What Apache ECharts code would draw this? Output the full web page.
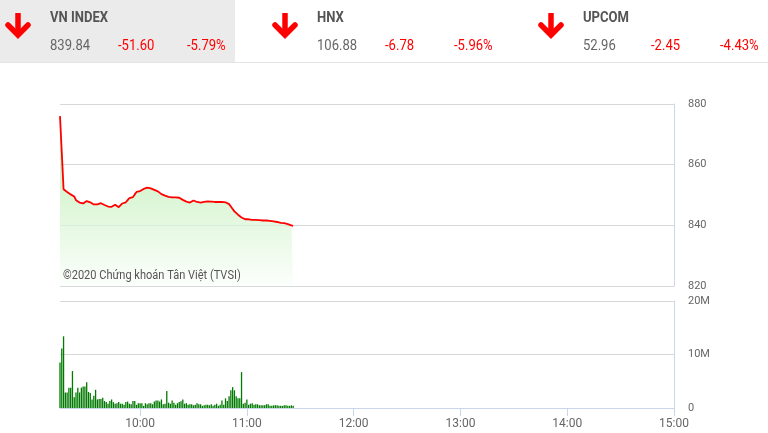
<!DOCTYPE html>
<html>
<head>
<meta charset="utf-8">
<script src="https://cdn.jsdelivr.net/npm/echarts@6/dist/echarts.min.js"></script>
<style>
  html, body { margin: 0; padding: 0; background: #fff; }
  #chart { width: 768px; height: 433px; }
</style>
</head>
<body>
<div id="chart"></div>
<script>
// bảng chỉ số đầu trang
const indexNames = ['VN INDEX', 'HNX', 'UPCOM']
const indexValues = ['839.84', '106.88', '52.96']
const indexChanges = ['-51.60', '-6.78', '-2.45']
const indexPercents = ['-5.79%', '-5.96%', '-4.43%']

// trục thời gian tính theo phút trong ngày
const sessionStart = 555   // 9:15
const sessionEnd = 900     // 15:00
const hourTicks = [600, 660, 720, 780, 840, 900]
const hourLabels = ['10:00', '11:00', '12:00', '13:00', '14:00', '15:00']
const priceTicks = [820, 840, 860, 880]
const volumeTicks = [0, 10, 20]
const volumeLabels = ['0', '10M', '20M']

// VN-Index theo từng phút, từ 9:15
const prices = [
  876.0, 864.0, 851.9, 851.4, 851.0, 850.6, 850.2, 849.8, 849.5, 848.3,
  847.9, 847.5, 847.0, 847.2, 847.3, 848.0, 848.4, 847.6, 847.0, 846.9,
  847.0, 846.9, 847.0, 847.3, 847.1, 846.7, 846.4, 846.2, 846.0, 846.1,
  846.5, 846.8, 846.2, 846.0, 846.6, 847.2, 847.8, 847.6, 848.3, 849.0,
  849.4, 849.3, 850.2, 851.0, 851.4, 851.3, 851.8, 852.0, 852.2, 852.4,
  852.1, 852.2, 851.9, 851.7, 851.6, 851.2, 850.7, 850.3, 850.0, 849.8,
  849.7, 849.4, 849.5, 849.2, 849.0, 849.2, 849.0, 849.1, 848.8, 848.4,
  848.2, 847.8, 847.6, 847.5, 847.9, 848.2, 847.8, 847.7, 847.8, 847.5,
  847.6, 847.7, 847.8, 847.9, 847.8, 847.8, 847.8, 847.7, 847.8, 847.7,
  847.6, 847.7, 847.6, 847.6, 847.5, 847.0, 846.2, 845.4, 844.6, 844.0,
  843.5, 843.0, 842.6, 842.3, 842.0, 841.9, 842.0, 841.9, 841.8, 841.9,
  841.8, 841.9, 841.7, 841.7, 841.6, 841.8, 841.6, 841.5, 841.5, 841.4,
  841.3, 841.2, 841.1, 841.0, 840.8, 840.9, 840.7, 840.7, 840.4, 840.2,
  840.0, 839.84
]

// khối lượng theo phút (triệu cp)
const volumes = [
  8.5, 11.1, 13.4, 2.9, 2.9, 3.8, 3.8, 6.9, 2.0, 2.9,
  3.8, 2.9, 3.8, 4.0, 4.0, 4.8, 3.0, 2.8, 1.6, 2.3,
  3.4, 1.6, 1.7, 1.7, 1.9, 1.3, 1.1, 0.8, 1.3, 1.6,
  1.1, 0.8, 0.9, 1.1, 0.8, 0.8, 0.6, 1.1, 1.2, 0.8,
  0.7, 1.3, 1.3, 0.6, 0.9, 0.9, 0.9, 0.4, 0.9, 0.7,
  0.9, 0.9, 0.7, 1.2, 1.4, 1.4, 1.2, 1.6, 0.7, 0.8,
  3.2, 1.0, 0.8, 1.4, 1.0, 0.6, 0.9, 1.1, 1.25, 1.6,
  0.8, 0.9, 0.6, 0.7, 0.7, 0.5, 0.6, 0.9, 0.7, 0.7,
  0.4, 0.5, 0.6, 0.6, 0.5, 0.7, 0.4, 0.6, 0.8, 0.4,
  0.6, 1.4, 0.6, 1.8, 1.3, 2.2, 3.3, 3.9, 3.3, 2.2,
  1.8, 1.8, 6.7, 0.8, 1.0, 1.6, 0.6, 0.8, 0.9, 0.6,
  0.7, 0.7, 0.5, 0.5, 0.5, 0.5, 0.7, 0.7, 0.4, 0.4,
  0.5, 0.5, 0.5, 0.4, 0.4, 0.4, 0.5, 0.5, 0.4, 0.4,
  0.5, 0.4
]

const copyright = '©2020 Chứng khoán Tân Việt (TVSI)'

const chart = echarts.init(document.getElementById('chart'))

// phần đầu: ô chỉ số, mũi tên đỏ
const panelX = [0, 267, 533]
const headerFont = 'Roboto, sans-serif'
const header = [
  { type: 'rect', shape: { x: 0, y: 0, width: 235, height: 62 }, style: { fill: '#ebebeb' }, silent: true },
  { type: 'rect', shape: { x: 0, y: 62, width: 768, height: 1 }, style: { fill: '#e4e4e4' }, silent: true }
]
indexNames.forEach((name, i) => {
  const x0 = panelX[i]
  header.push(
    { type: 'polyline', shape: { points: [[x0 + 18, 13], [x0 + 18, 34]] },
      style: { stroke: '#ff0000', lineWidth: 5.5, fill: null } },
    { type: 'polyline', shape: { points: [[x0 + 8, 25], [x0 + 18, 35], [x0 + 28, 25]] },
      style: { stroke: '#ff0000', lineWidth: 5.5, fill: null, lineJoin: 'miter', lineCap: 'round' } },
    { type: 'text', x: x0 + 50, y: 18, scaleX: 0.87,
      style: { text: name, fill: '#555', font: 'bold 15px ' + headerFont, verticalAlign: 'middle' } },
    { type: 'text', x: x0 + 50, y: 46, scaleX: 0.87,
      style: { text: indexValues[i], fill: '#666', font: '15px ' + headerFont, verticalAlign: 'middle' } },
    { type: 'text', x: x0 + 118, y: 46, scaleX: 0.87,
      style: { text: indexChanges[i], fill: '#ff0000', font: '15px ' + headerFont, verticalAlign: 'middle' } },
    { type: 'text', x: x0 + 187, y: 46, scaleX: 0.87,
      style: { text: indexPercents[i], fill: '#ff0000', font: '15px ' + headerFont, verticalAlign: 'middle' } }
  )
})
header.push({
  type: 'text', x: 63, y: 276, scaleX: 0.92, z: 10,
  style: { text: copyright, fill: '#555', font: '12px ' + headerFont, verticalAlign: 'middle' }
})

chart.setOption({
  animation: false,
  textStyle: { fontFamily: 'Roboto, sans-serif' },
  graphic: header,
  grid: [
    { left: 60, top: 104, width: 614, height: 182 },
    { left: 60, top: 301, width: 614, height: 107 }
  ],
  xAxis: [
    {
      gridIndex: 0, type: 'value', min: sessionStart, max: sessionEnd,
      axisLine: { show: false }, axisTick: { show: false },
      axisLabel: { show: false }, splitLine: { show: false }
    },
    {
      gridIndex: 1, type: 'value', min: sessionStart, max: sessionEnd,
      axisLine: { show: true, onZero: false, lineStyle: { color: '#ccd6eb' } },
      axisTick: { show: true, customValues: hourTicks, length: 8, lineStyle: { color: '#ccd6eb' } },
      axisLabel: {
        customValues: hourTicks, color: '#666', fontSize: 12, margin: 10,
        formatter: v => hourLabels[hourTicks.indexOf(v)]
      },
      splitLine: { show: false }
    }
  ],
  yAxis: [
    {
      gridIndex: 0, type: 'value', position: 'right',
      min: priceTicks[0], max: priceTicks[priceTicks.length - 1], interval: 20,
      axisLine: { show: true, lineStyle: { color: '#ccd6eb' } },
      axisTick: { show: false },
      axisLabel: { color: '#666', fontSize: 11, margin: 14 },
      splitLine: { lineStyle: { color: '#d8d8d8' } }
    },
    {
      gridIndex: 1, type: 'value', position: 'right',
      min: volumeTicks[0], max: volumeTicks[volumeTicks.length - 1], interval: 10,
      axisLine: { show: true, lineStyle: { color: '#ccd6eb' } },
      axisTick: { show: false },
      axisLabel: {
        color: '#666', fontSize: 11, margin: 14,
        formatter: v => volumeLabels[volumeTicks.indexOf(v)]
      },
      splitLine: { lineStyle: { color: '#d8d8d8' } }
    }
  ],
  series: [
    {
      name: 'VN-Index',
      type: 'line',
      xAxisIndex: 0,
      yAxisIndex: 0,
      data: prices.map((p, i) => [sessionStart + i, p]),
      showSymbol: false,
      lineStyle: { color: '#ff0000', width: 1.8 },
      areaStyle: {
        origin: 'start',
        color: new echarts.graphic.LinearGradient(0, 0, 0, 1, [
          { offset: 0, color: '#b2e9a6' },
          { offset: 0.45, color: '#c8f0c0' },
          { offset: 1, color: '#fafefa' }
        ])
      }
    },
    {
      name: 'KL',
      type: 'bar',
      xAxisIndex: 1,
      yAxisIndex: 1,
      data: volumes.map((v, i) => [sessionStart + i, v]),
      barWidth: 1.3,
      itemStyle: { color: '#007a00' }
    }
  ]
})
</script>
</body>
</html>
